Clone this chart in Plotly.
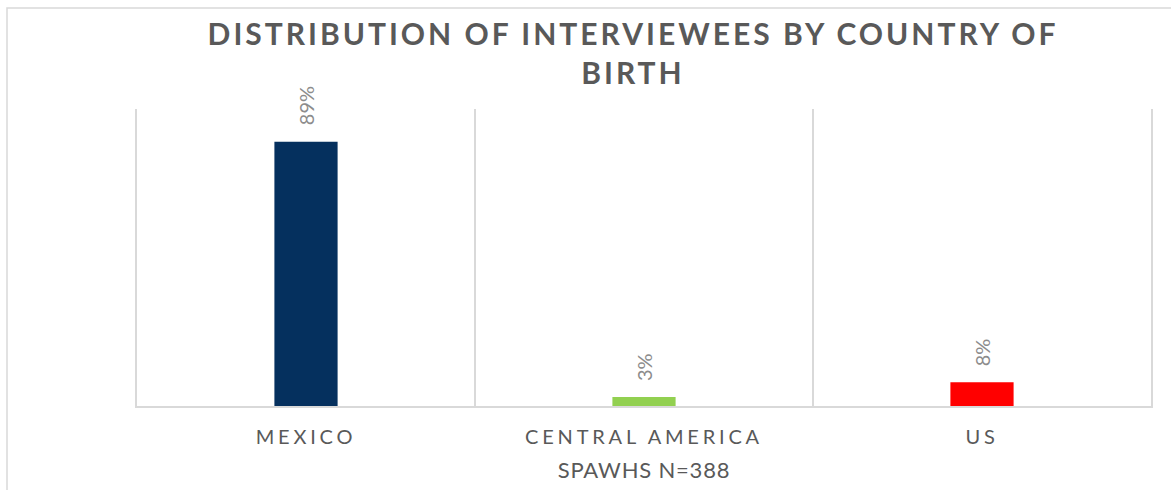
import plotly.graph_objects as go

categories = ["MEXICO", "CENTRAL AMERICA", "US"]
values = [89, 3, 8]
labels = ["89%", "3%", "8%"]
colors = ["#05305E", "#92D050", "#FF0000"]

title_text = "DISTRIBUTION OF INTERVIEWEES BY COUNTRY OF<br>BIRTH"
x_title = "SPAWHS N=388"

fig = go.Figure()
fig.add_trace(go.Bar(
    x=categories, y=values,
    marker=dict(color=colors, line=dict(width=0)),
    hoverinfo="skip",
))

for c, v, t in zip(categories, values, labels):
    fig.add_annotation(
        x=c, y=v, text=t, textangle=-90, showarrow=False,
        xref="x", yref="y", yanchor="bottom", yshift=14,
        font=dict(family="Lato", size=20, color="#8C8C8C"),
    )

fig.update_layout(
    width=1171, height=490,
    margin=dict(l=137, r=20, t=109, b=84),
    paper_bgcolor="white", plot_bgcolor="white",
    bargap=0.813,
    showlegend=False,
    title=dict(
        text=title_text, x=633/1171, xanchor="center",
        y=0.908, yanchor="top", yref="container",
        font=dict(family="Lato", size=30, color="#595959", weight="bold"),
    ),
    xaxis=dict(
        type="category", tickson="boundaries",
        showgrid=True, gridcolor="#D9D9D9", gridwidth=1.5,
        showline=True, linecolor="#D9D9D9", linewidth=2,
        ticks="", ticklen=0, ticklabelstandoff=12,
        tickfont=dict(family="Lato", size=20, color="#595959"),
        title=dict(text=x_title, standoff=16,
                   font=dict(family="Lato", size=22, color="#595959")),
        range=[-0.5, 2.5],
    ),
    yaxis=dict(range=[0, 100], showgrid=False, zeroline=False,
               showticklabels=False, ticks="",
               showline=True, mirror=True, linecolor="#D9D9D9", linewidth=1.5),
    shapes=[dict(
        type="rect", xref="paper", yref="paper",
        x0=(7 - 137) / 1014, x1=(1185 - 137) / 1014,
        y0=(406 - 510) / 297, y1=(406 - 8) / 297,
        line=dict(color="#D9D9D9", width=1.5), fillcolor="rgba(0,0,0,0)",
        layer="below",
    )],
)

css = """
var s = document.createElement('style');
s.innerHTML = 'html,body{margin:0;padding:0;overflow:hidden;} .gtitle{letter-spacing:3px;} .xtick text{letter-spacing:3.8px;} .xtitle{letter-spacing:0.8px;}';
document.head.appendChild(s);
"""

fig.write_html("out.html", post_script=css, config={"displayModeBar": False})
